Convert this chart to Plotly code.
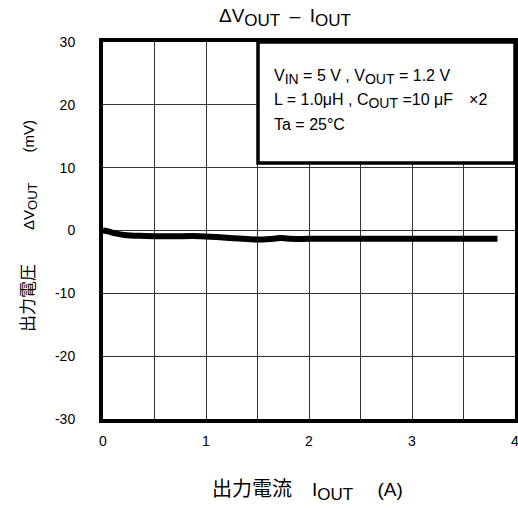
import plotly.graph_objects as go

# output current (A) vs output voltage change (mV)
iout = [0.0, 0.05, 0.12, 0.21, 0.35, 0.5, 0.7, 0.94, 1.1, 1.23, 1.4, 1.52, 1.62, 1.72, 1.82, 1.91, 2.05, 2.2, 2.6, 3.0, 3.4, 3.83]
dvout = [0.0, -0.15, -0.45, -0.7, -0.85, -0.9, -0.9, -0.9, -1.05, -1.2, -1.35, -1.45, -1.35, -1.2, -1.3, -1.35, -1.3, -1.3, -1.3, -1.3, -1.3, -1.3]

x_ticks = [0, 1, 2, 3, 4]
x_labels = ['0', '1', '2', '3', '4']
y_ticks = [-30, -20, -10, 0, 10, 20, 30]
y_labels = ['-30', '-20', '-10', '0', '10', '20', '30']


def sub(s, size):
    return '<sub><span style="font-size:%dpx">%s</span></sub>' % (size, s)


def big(s, size):
    return '<span style="font-size:%dpx">%s</span>' % (size, s)


cond_lines = [
    'V' + sub('IN', 14) + ' = 5 V , V' + sub('OUT', 14) + ' = 1.2 V',
    'L = 1.0\u03bcH , C' + sub('OUT', 14) + ' =10 \u03bcF\u3000\u00d72',
    'Ta = 25\u00b0C',
]

FONT = 'Liberation Sans, Arial, Noto Sans CJK JP'

W, H = 518, 509
PL, PT, PW, PH = 103, 42, 412, 377


def px(x):
    return (x - PL) / PW


def py(y):
    return (PT + PH - y) / PH


fig = go.Figure(go.Scatter(x=iout, y=dvout, mode='lines', hoverinfo='skip',
                           line=dict(color='black', width=6, shape='spline', smoothing=0.6),
                           showlegend=False))

fig.update_layout(
    width=W, height=H,
    margin=dict(l=PL, r=W - PL - PW, t=PT, b=H - PT - PH),
    paper_bgcolor='white', plot_bgcolor='white',
    font=dict(family=FONT, size=14, color='black'),
    title=dict(text='\u0394V' + sub('OUT', 17) + '\u2002\u2013\u2002I' + sub('OUT', 17),
               x=285 / W, xanchor='center',
               y=1 - 9 / H, yanchor='top', font=dict(size=19)),
    xaxis=dict(range=[0, 4], tickvals=x_ticks, ticktext=x_labels,
               showgrid=True, gridcolor='#333333', gridwidth=1,
               minor=dict(dtick=0.5, showgrid=True, gridcolor='#333333', gridwidth=1),
               zeroline=False, showline=True, mirror=True, linecolor='black', linewidth=4,
               ticks='', ticklabelstandoff=6, ticklabeloverflow='allow', automargin=False),
    yaxis=dict(range=[-30, 30], tickvals=y_ticks, ticktext=y_labels,
               showgrid=True, gridcolor='#333333', gridwidth=1,
               zeroline=False, showline=True, mirror=True, linecolor='black', linewidth=4,
               ticks='', ticklabelstandoff=21, automargin=False),
)

# axis titles
fig.add_annotation(text=big('\u51fa\u529b\u96fb\u6d41\u3000', 20) + 'I' + sub('OUT', 17) + '\u3000 (A)',
                   xref='paper', yref='paper', x=px(307), y=py(491),
                   xanchor='center', yanchor='middle', showarrow=False, font=dict(size=19))
fig.add_annotation(text=big('\u51fa\u529b\u96fb\u5727\u3000\u3000', 17) + '\u0394V' + sub('OUT', 13)
                   + '\u3000\u3000(mV)',
                   xref='paper', yref='paper', x=px(30), y=py(226),
                   xanchor='center', yanchor='middle', textangle=-90, showarrow=False,
                   font=dict(size=15))

# conditions box
fig.add_shape(type='rect', xref='paper', yref='paper', x0=px(258), x1=1, y0=py(163), y1=1,
              fillcolor='white', line=dict(color='black', width=3.5), layer='above')

for i, txt in enumerate(cond_lines):
    fig.add_annotation(text=txt, xref='paper', yref='paper', x=px(272), y=py(77 + i * 23.5),
                       xanchor='left', yanchor='middle', showarrow=False,
                       font=dict(size=16))

# drop the page margin so the figure sits at the window's corner
fig.write_html('out.html', config={'staticPlot': True},
               post_script="document.body.style.margin='0';"
                           "document.documentElement.style.overflow='hidden';")
